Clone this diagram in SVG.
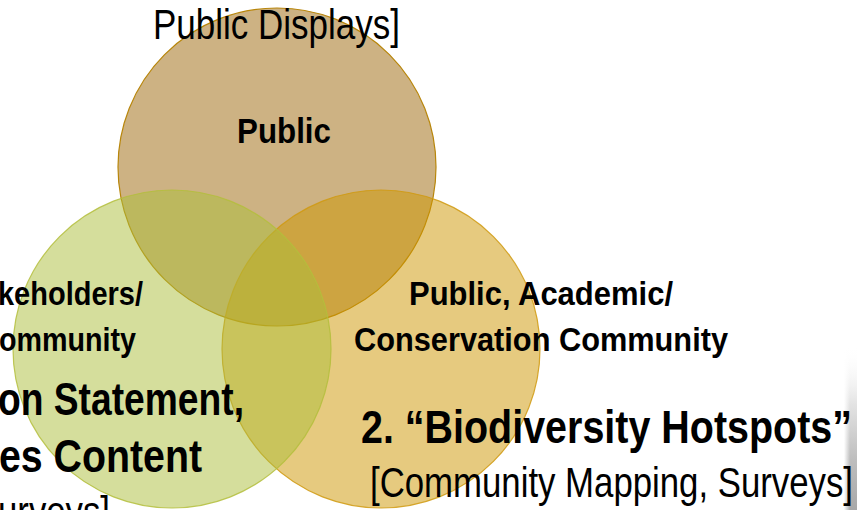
<svg xmlns="http://www.w3.org/2000/svg" width="857" height="510" viewBox="0 0 857 510">
<style>
.t{font-family:"Liberation Sans Narrow","Liberation Sans",Arial,sans-serif;fill:#000}
.b{font-weight:bold}
</style>
<defs>
<linearGradient id="edge" x1="0" y1="0" x2="0" y2="1">
<stop offset="0" stop-color="#ffffff" stop-opacity="0"/>
<stop offset="0.35" stop-color="#e4e4e4"/>
<stop offset="0.7" stop-color="#bdbdbd"/>
<stop offset="1" stop-color="#a8a8a8"/>
</linearGradient>
<linearGradient id="edgeh" x1="0" y1="0" x2="1" y2="0">
<stop offset="0" stop-color="#fff" stop-opacity="1"/>
<stop offset="1" stop-color="#fff" stop-opacity="0"/>
</linearGradient>
</defs>
<rect width="857" height="510" fill="#fff"/>
<g id="edge-photo">
<rect x="844" y="345" width="13" height="165" fill="url(#edge)"/>
<rect x="844" y="345" width="6" height="165" fill="url(#edgeh)"/>
</g>
<g id="circle-public">
<circle cx="277" cy="167" r="159" fill="#CDB283" stroke="#B8860B" stroke-width="1.2"/>
</g>
<g id="circle-conservation">
<circle cx="381" cy="349" r="159" fill="#CD9500" fill-opacity="0.5" stroke="#D09A10" stroke-width="1.2" stroke-opacity="0.85"/>
</g>
<g id="circle-stakeholders">
<circle cx="172" cy="349" r="159" fill="#ABBD39" fill-opacity="0.5" stroke="#B4BE3C" stroke-width="1.2" stroke-opacity="0.85"/>
</g>
<g id="connectors"></g>
<g id="labels">
<text class="t" x="153" y="39" font-size="42" textLength="247" lengthAdjust="spacingAndGlyphs">Public Displays]</text>
<text class="t b" x="237" y="143" font-size="35" textLength="94" lengthAdjust="spacingAndGlyphs">Public</text>
<text class="t b" x="409" y="305" font-size="33" textLength="264" lengthAdjust="spacingAndGlyphs">Public, Academic/</text>
<text class="t b" x="354" y="351" font-size="33" textLength="374" lengthAdjust="spacingAndGlyphs">Conservation Community</text>
<text class="t b" x="-2" y="305" font-size="33" textLength="145" lengthAdjust="spacingAndGlyphs">keholders/</text>
<text class="t b" x="-1" y="351" font-size="33" textLength="137" lengthAdjust="spacingAndGlyphs">ommunity</text>
<text class="t b" x="-2" y="415" font-size="46" textLength="246" lengthAdjust="spacingAndGlyphs">on Statement,</text>
<text class="t b" x="-1" y="472" font-size="46" textLength="203" lengthAdjust="spacingAndGlyphs">es Content</text>
<text class="t" x="-2" y="526" font-size="42" textLength="112" lengthAdjust="spacingAndGlyphs">urveys]</text>
<text class="t b" x="361" y="443" font-size="46" textLength="491" lengthAdjust="spacingAndGlyphs">2. “Biodiversity Hotspots”</text>
<text class="t" x="370" y="497" font-size="42" textLength="483" lengthAdjust="spacingAndGlyphs">[Community Mapping, Surveys]</text>
</g>
</svg>
